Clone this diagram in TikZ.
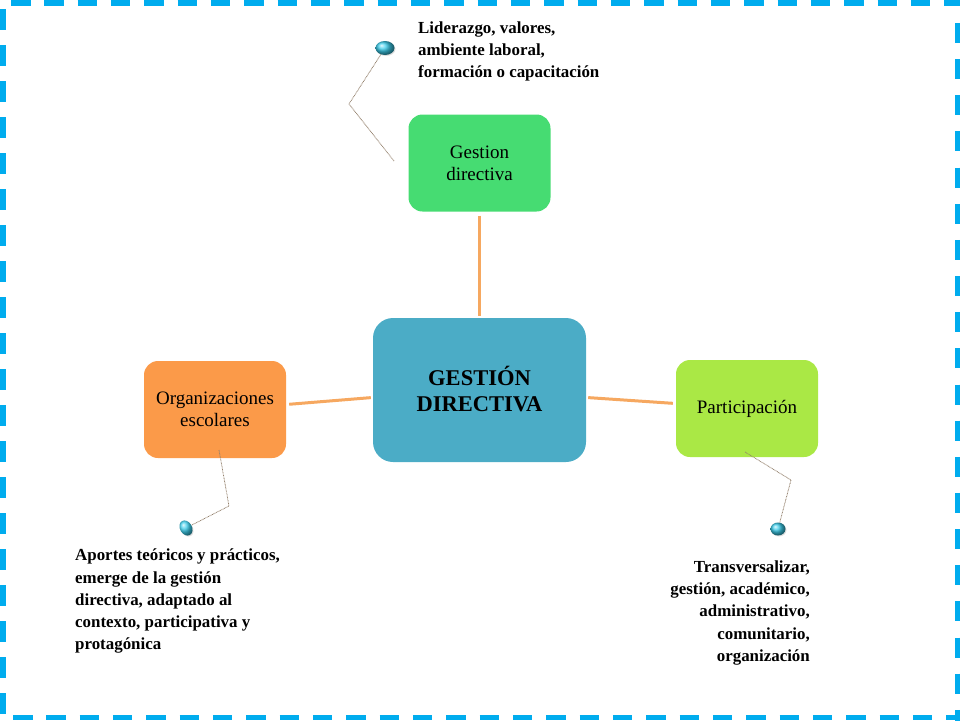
\documentclass[tikz,border=0pt]{standalone}
\usepackage{fontspec}
\setmainfont{Liberation Serif}
\usepackage{xcolor}
\usetikzlibrary{shapes.geometric, positioning, shadows}
\definecolor{myframe}{RGB}{0, 172, 238}
\definecolor{mygreen}{RGB}{70, 220, 114}
\definecolor{myorange}{RGB}{251, 154, 73}
\definecolor{mylime}{RGB}{170, 232, 69}
\definecolor{myblue}{RGB}{75, 172, 198}
\definecolor{myline}{RGB}{246, 168, 96}
\definecolor{mybead}{RGB}{60, 205, 235}
\tikzstyle{topic} = [rounded corners=14pt, minimum width=142pt, minimum height=97pt, align=center, inner sep=0pt, font=\fontsize{19}{22}\selectfont]
\tikzstyle{spoke} = [line width=3pt, myline]
\tikzstyle{leader} = [line width=0.8pt, gray!70!brown, dash pattern=on 0.8pt off 0.7pt]
\tikzstyle{bead} = [ellipse, minimum width=19pt, minimum height=14pt, inner sep=0pt, ball color=mybead, drop shadow={opacity=0.25, shadow xshift=1pt, shadow yshift=-1pt}]
\tikzstyle{note} = [inner sep=0pt, font=\bfseries\fontsize{16.9}{22.2}\selectfont]
\tikzstyle{dashpiece} = [line width=5.5pt, myframe]

\begin{document}
\begin{tikzpicture}[x=1pt,y=-1pt]
\useasboundingbox (0,0) rectangle (960,720);
\clip (0,0) rectangle (960,720);

% frame
\foreach \x in {0,...,28} {
\draw[dashpiece] (11+33.33*\x,2.75) -- ++(19.5,0);
\draw[dashpiece] (13+33.33*\x,717.25) -- ++(19.5,0);
}
\foreach \y in {0,...,19} {
\draw[dashpiece] (2.75,9+36*\y) -- ++(0,21);
\draw[dashpiece] (957.25,23+36.15*\y) -- ++(0,20);
}

% boxes
\node[rounded corners=20pt, fill=myblue, minimum width=213pt, minimum height=144pt, align=center, inner sep=0pt, font=\bfseries\fontsize{22.5}{26}\selectfont] (central) at (479.5,390) {\raisebox{1.5pt}{GESTIÓN}\\\raisebox{1.5pt}{DIRECTIVA}};
\node[topic, fill=mygreen] (directiva) at (479.5,163) {Gestion\\directiva};
\node[topic, fill=myorange] (escolares) at (215,409.5) {Organizaciones\\escolares};
\node[topic, fill=mylime] (participa) at (747,408.5) {\raisebox{-1.5pt}{Participación}};

\draw[spoke, shorten >=2pt, shorten <=4pt] (directiva.south) -- (central.north);
\draw[spoke, shorten >=2pt, shorten <=3pt] (escolares.4) -- (central.184);
\draw[spoke, shorten >=3pt, shorten <=2pt] (central.356) -- (participa.176);

% beads and notes
\node[bead] (beadtop) at (385,48) {};
\node[bead, rotate=-60, minimum width=16pt, minimum height=12pt] (beadleft) at (186,528) {};
\node[bead, minimum width=15pt, minimum height=13pt] (beadright) at (778,529) {};

\coordinate (starttop) at (394,161);
\coordinate (bendtop) at (349,104);
\coordinate (startleft) at (219,450);
\coordinate (bendleft) at (229,506);
\coordinate (startright) at (745,452);
\coordinate (bendright) at (791,480);

\draw[leader] (starttop) -- (bendtop) -- (beadtop);
\draw[leader] (startleft) -- (bendleft) -- (beadleft);
\draw[leader] (startright) -- (bendright) -- (beadright);

\node[note, anchor=north west, align=left] (notetop) at (418,21.5) {Liderazgo, valores,\\ambiente laboral,\\formación o capacitación};
\node[note, anchor=north west, align=left] (noteleft) at (75,549) {Aportes teóricos y prácticos,\\emerge de la gestión\\directiva, adaptado al\\contexto, participativa y\\protagónica};
\node[note, anchor=north east, align=right] (noteright) at (810,560.5) {Transversalizar,\\gestión, académico,\\administrativo,\\comunitario,\\organización};
\end{tikzpicture}
\end{document}
